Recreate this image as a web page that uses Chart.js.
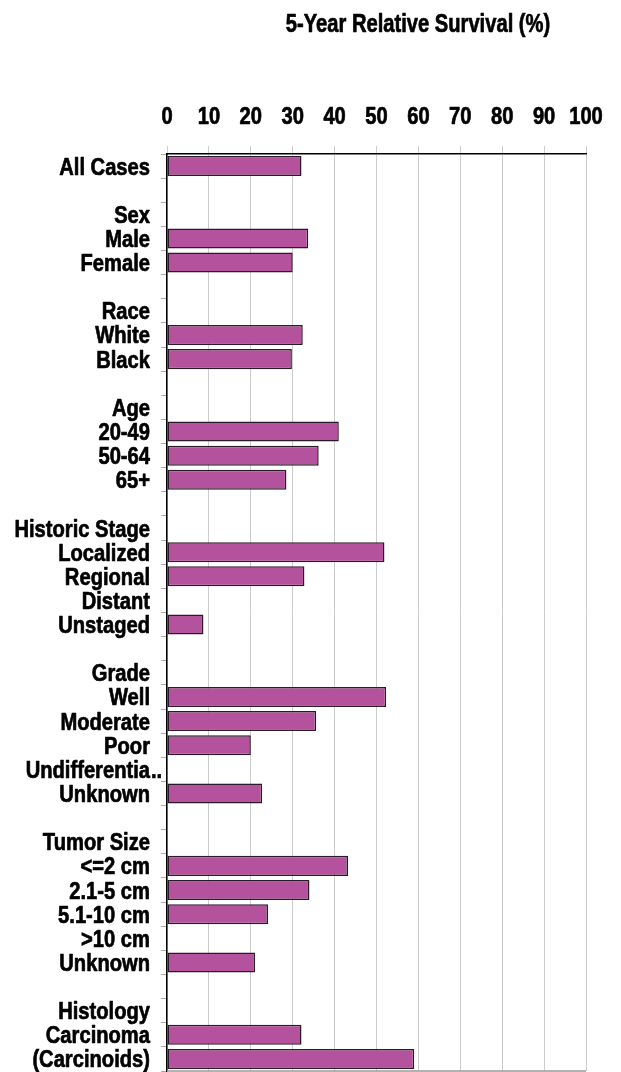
<!DOCTYPE html>
<html>
<head>
<meta charset="utf-8">
<script src="https://cdn.jsdelivr.net/npm/chart.js@4"></script>
<style>
  html, body { margin: 0; padding: 0; background: #fff; }
  canvas { display: block; }
</style>
</head>
<body>
<canvas id="chart" width="621" height="1072"></canvas>
<script>
// no narrow font installed, so Liberation Sans bold is squeezed to look like Arial Narrow
const FONT = "'Liberation Sans', Arial, sans-serif";
const SQUEEZE = 0.84;

// row labels, blank strings are the spacer rows between groups
const categories = [
  "All Cases", "",
  "Sex", "Male", "Female", "",
  "Race", "White", "Black", "",
  "Age", "20-49", "50-64", "65+", "",
  "Historic Stage", "Localized", "Regional", "Distant", "Unstaged", "",
  "Grade", "Well", "Moderate", "Poor", "Undifferentia..", "Unknown", "",
  "Tumor Size", "<=2 cm", "2.1-5 cm", "5.1-10 cm", ">10 cm", "Unknown", "",
  "Histology", "Carcinoma", "(Carcinoids)"
];

const survival = [
  32.1, null,
  null, 33.7, 30.0, null,
  null, 32.4, 29.8, null,
  null, 41.0, 36.2, 28.5, null,
  null, 51.9, 32.8, null, 8.7, null,
  null, 52.3, 35.6, 20.0, null, 22.7, null,
  null, 43.2, 34.0, 24.1, null, 21.0, null,
  null, 32.1, 59.0
];

const xTicks = [0, 10, 20, 30, 40, 50, 60, 70, 80, 90, 100];

const chartTitle = "5-Year Relative Survival (%)";

function squeezedText(ctx, text, x, y, align, size, sx) {
  ctx.save();
  ctx.font = "bold " + size + "px " + FONT;
  ctx.fillStyle = "#000";
  ctx.strokeStyle = "#000";
  ctx.lineWidth = 0.7;
  ctx.lineJoin = "round";
  ctx.textAlign = align;
  ctx.textBaseline = "alphabetic";
  ctx.translate(x, y);
  ctx.scale(sx, 1);
  ctx.fillText(text, 0, 0);
  ctx.strokeText(text, 0, 0); // a bit heavier, closer to Arial Narrow Bold
  ctx.restore();
}

// axis labels and title, placed from the chart's own scales
const labelPlugin = {
  id: "labels",
  afterDraw(chart) {
    const ctx = chart.ctx;
    const xs = chart.scales.x;
    const ys = chart.scales.y;
    const labelRight = chart.chartArea.left - 17;

    categories.forEach((label, i) => {
      if (!label) return;
      const y = ys.getPixelForValue(i) + 8.5;
      if (label.endsWith("..")) {
        // truncated label: dots hang past the normal right edge
        squeezedText(ctx, label.slice(0, -2), labelRight, y, "right", 24, SQUEEZE);
        squeezedText(ctx, "..", labelRight + 1, y, "left", 24, SQUEEZE);
      } else {
        squeezedText(ctx, label, labelRight, y, "right", 24, SQUEEZE);
      }
    });

    xTicks.forEach((v) => {
      squeezedText(ctx, String(v), xs.getPixelForValue(v), 124, "center", 24, SQUEEZE);
    });

    squeezedText(ctx, chartTitle, 418, 32, "center", 26, 0.775);
  }
};

// grey frame line along the bottom of the plot
const bottomLine = {
  id: "bottomLine",
  afterDatasetsDraw(chart) {
    const { ctx, chartArea } = chart;
    ctx.save();
    ctx.strokeStyle = "#999";
    ctx.lineWidth = 1.5;
    ctx.beginPath();
    ctx.moveTo(chartArea.left, chartArea.bottom);
    ctx.lineTo(chartArea.right, chartArea.bottom);
    ctx.stroke();
    ctx.restore();
  }
};

new Chart(document.getElementById("chart"), {
  type: "bar",
  data: {
    labels: categories,
    datasets: [{
      data: survival,
      backgroundColor: "#b5529e",
      borderColor: "#2b1a27",
      borderWidth: 1.5,
      borderSkipped: false,
      barPercentage: 0.83,
      categoryPercentage: 1.0
    }]
  },
  options: {
    indexAxis: "y",
    responsive: false,
    animation: false,
    layout: { padding: { top: 146, left: 161, right: 35, bottom: 1 } },
    plugins: {
      legend: { display: false },
      tooltip: { enabled: false },
      title: { display: false }
    },
    scales: {
      x: {
        position: "top",
        min: 0,
        max: 100,
        afterBuildTicks: (scale) => {
          scale.ticks = xTicks.map((v) => ({ value: v }));
        },
        ticks: { display: false },
        grid: { color: "#cccccc", lineWidth: 1, tickLength: 8 },
        border: { display: true, color: "#000", width: 1.5 }
      },
      y: {
        ticks: { display: false, autoSkip: false },
        grid: { drawOnChartArea: false, color: "#aaaaaa", tickLength: 6 },
        border: { display: true, color: "#000", width: 1.5 }
      }
    }
  },
  plugins: [labelPlugin, bottomLine]
});
</script>
</body>
</html>
